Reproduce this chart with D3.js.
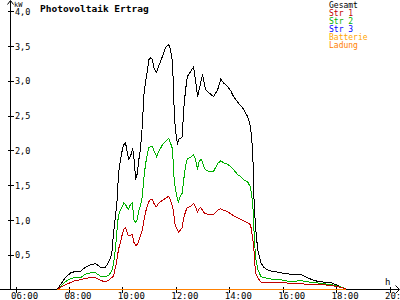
<!DOCTYPE html>
<html><head><meta charset="utf-8">
<script src="https://cdn.jsdelivr.net/npm/d3@7"></script>
<style>html,body{margin:0;padding:0;background:#fff;} svg{display:block;}</style>
</head><body>
<script>
const times = ["07:34","07:41","07:52","08:04","08:15","08:26","08:37","08:49","09:00","09:11","09:22","09:29","09:36","09:40","09:45","09:49","09:51","09:56","10:00","10:03","10:07","10:12","10:14","10:18","10:23","10:25","10:30","10:34","10:36","10:41","10:45","10:48","10:52","10:57","10:59","11:03","11:08","11:10","11:15","11:17","11:21","11:26","11:30","11:37","11:44","11:48","11:53","11:55","11:59","12:04","12:06","12:11","12:15","12:17","12:22","12:26","12:33","12:40","12:44","12:49","12:51","12:56","13:00","13:02","13:07","13:14","13:25","13:34","13:41","13:47","13:56","14:03","14:10","14:19","14:26","14:32","14:41","14:48","14:53","14:55","14:59","15:04","15:11","15:17","15:29","15:40","15:55","16:18","16:40","16:56","17:10","17:25","17:48","18:10","18:22"];
const gesamt = [0,0.07,0.17,0.24,0.26,0.26,0.32,0.36,0.37,0.32, 0.32,0.39,0.50,0.79,1.08,1.34,1.65,1.87,2.01,2.08, 2.11,1.94,1.87,1.91,2.01,1.97,1.58,1.68,1.82,2.04, 2.37,2.77,2.99,3.16,3.30,3.33,3.30,3.20,3.13,3.12, 3.20,3.28,3.35,3.48,3.52,3.45,3.26,2.77,2.30,2.08, 2.16,2.17,2.20,2.54,2.87,3.06,3.13,3.20,3.02,2.77, 2.83,2.97,3.09,3.02,2.87,2.83,2.77,2.87,3.02,2.97, 2.92,2.86,2.77,2.69,2.64,2.59,2.49,2.34,1.97,1.39, 0.91,0.57,0.39,0.32,0.27,0.26,0.24,0.22,0.22,0.17, 0.13,0.11,0.10,0.04,0.01];
const str1 = [0,0.03,0.07,0.10,0.13,0.14,0.16,0.17,0.17,0.13, 0.11,0.13,0.17,0.19,0.33,0.47,0.57,0.68,0.80,0.86, 0.89,0.79,0.78,0.78,0.79,0.69,0.63,0.65,0.69,0.78, 0.86,0.98,1.11,1.22,1.26,1.29,1.29,1.25,1.19,1.19, 1.24,1.26,1.28,1.31,1.34,1.29,1.18,1.11,0.91,0.86, 0.82,0.86,0.89,1.01,1.12,1.18,1.19,1.24,1.19,1.11, 1.15,1.18,1.14,1.11,1.09,1.08,1.08,1.14,1.16,1.14, 1.12,1.09,1.06,1.03,1.01,0.99,0.96,0.93,0.72,0.62, 0.24,0.17,0.11,0.10,0.10,0.10,0.10,0.09,0.09,0.07, 0.07,0.07,0.06,0.03,0.01];
const str2 = [0,0.04,0.11,0.16,0.17,0.17,0.22,0.24,0.24,0.19, 0.19,0.20,0.26,0.36,0.62,0.93,1.05,1.15,1.19,1.25, 1.22,1.16,1.15,1.22,1.25,1.01,0.96,1.01,1.11,1.22, 1.34,1.58,1.80,1.97,2.04,2.05,2.05,2.01,1.94,1.91, 1.98,2.03,2.08,2.13,2.17,2.11,2.01,1.68,1.44,1.29, 1.26,1.35,1.39,1.54,1.77,1.88,1.90,1.94,1.87,1.72, 1.82,1.87,1.84,1.77,1.72,1.70,1.70,1.81,1.85,1.82, 1.80,1.77,1.72,1.65,1.62,1.58,1.55,1.47,1.22,0.93, 0.47,0.29,0.19,0.17,0.16,0.14,0.14,0.11,0.13,0.11, 0.10,0.09,0.07,0.04,0.01];
const zeroTimes = ["07:34","18:22"];
const str3 = [0,0];
const batterie = [0,0];
const ladung = [0,0];
const xTicks = ["06:00","08:00","10:00","12:00","14:00","16:00","18:00","20:00"];
const yTicks = [0.5,1,1.5,2,2.5,3,3.5,4];
const yTickLabels = ["0,5","1,0","1,5","2,0","2,5","3,0","3,5","4,0"];
const legendNames = ["Gesamt","Str 1","Str 2","Str 3","Batterie","Ladung"];
const colors = ["#000000","#c00000","#00b000","#0000ff","#ffa500","#ff8000"];
const title = "Photovoltaik Ertrag";
const yUnit = "kW";
const xUnit = "h";

const W = 400, H = 300;
const FONT = "'DejaVu Sans Mono', monospace";
const svg = d3.select("body").append("svg").attr("width", W).attr("height", H)
  .style("font-family", FONT);
const toMin = s => { const [h, m] = s.split(":").map(Number); return h * 60 + m; };
const x = d3.scaleLinear().domain([360, 1200]).range([15.5, 389.5]);
const y = d3.scaleLinear().domain([0, 4]).range([289.5, 11.1]);

// Y axis
const yAxis = svg.append("g").attr("transform", "translate(10.5,0)")
  .call(d3.axisRight(y).tickValues(yTicks).tickSize(3).tickFormat((d, i) => yTickLabels[i]));
yAxis.select(".domain").remove();
yAxis.selectAll(".tick line").attr("x1", -3).attr("x2", 3).attr("stroke", "#000").attr("shape-rendering", "crispEdges");
yAxis.selectAll(".tick text").attr("x", 4.5).attr("dy", "0.38em")
  .style("font-family", FONT).style("font-size", "8.5px").attr("fill", "#000");
svg.append("line").attr("x1", 10.5).attr("x2", 10.5).attr("y1", 0.5).attr("y2", 289.5)
  .attr("stroke", "#000").attr("shape-rendering", "crispEdges");
svg.append("path").attr("d", "M7.5,4.5L10.5,0.5L13.5,4.5").attr("fill", "none").attr("stroke", "#000");

// X axis
const xAxis = svg.append("g").attr("transform", "translate(0,289.5)")
  .call(d3.axisBottom(x).tickValues(xTicks.map(toMin)).tickSize(3).tickFormat((d, i) => xTicks[i]));
xAxis.select(".domain").remove();
xAxis.selectAll(".tick line").attr("y1", -3).attr("y2", 3).attr("stroke", "#000").attr("shape-rendering", "crispEdges");
xAxis.selectAll(".tick text").attr("text-anchor", "start").attr("x", -5).attr("y", 9.5).attr("dy", "0")
  .style("font-family", FONT).style("font-size", "9px").attr("fill", "#000");
svg.append("line").attr("x1", 0).attr("x2", 399).attr("y1", 289.5).attr("y2", 289.5)
  .attr("stroke", "#000").attr("shape-rendering", "crispEdges");
svg.append("path").attr("d", "M395.5,285.5L399.5,289.5L395.5,293.5").attr("fill", "none").attr("stroke", "#000");

svg.append("text").attr("x", 14).attr("y", 7).text(yUnit)
  .style("font-size", "7px").attr("fill", "#000");
svg.append("text").attr("x", 385).attr("y", 285).text(xUnit)
  .style("font-size", "9px").attr("fill", "#000");

// Title
svg.append("text").attr("x", 40).attr("y", 11.5).text(title)
  .style("font-size", "9.5px").style("font-weight", "bold").attr("fill", "#000");

// Lines
const line = d3.line().x(d => x(d[0])).y(d => y(d[1]));
const seriesList = [
  [times, gesamt, colors[0]],
  [times, str2, colors[2]],
  [times, str1, colors[1]],
  [zeroTimes, str3, colors[3]],
  [zeroTimes, batterie, colors[4]],
  [zeroTimes, ladung, colors[5]]
];
seriesList.forEach(([ts, vals, c]) => {
  const pts = ts.map((t, i) => [toMin(t), vals[i]]);
  svg.append("path").datum(pts).attr("d", line)
    .attr("fill", "none").attr("stroke", c).attr("stroke-width", 1)
    .attr("shape-rendering", "crispEdges");
});

// Legend
legendNames.forEach((n, i) => {
  svg.append("text").attr("x", 329).attr("y", 8 + i * 8).text(n)
    .style("font-size", "8px").attr("fill", colors[i]);
});
</script>
</body></html>
